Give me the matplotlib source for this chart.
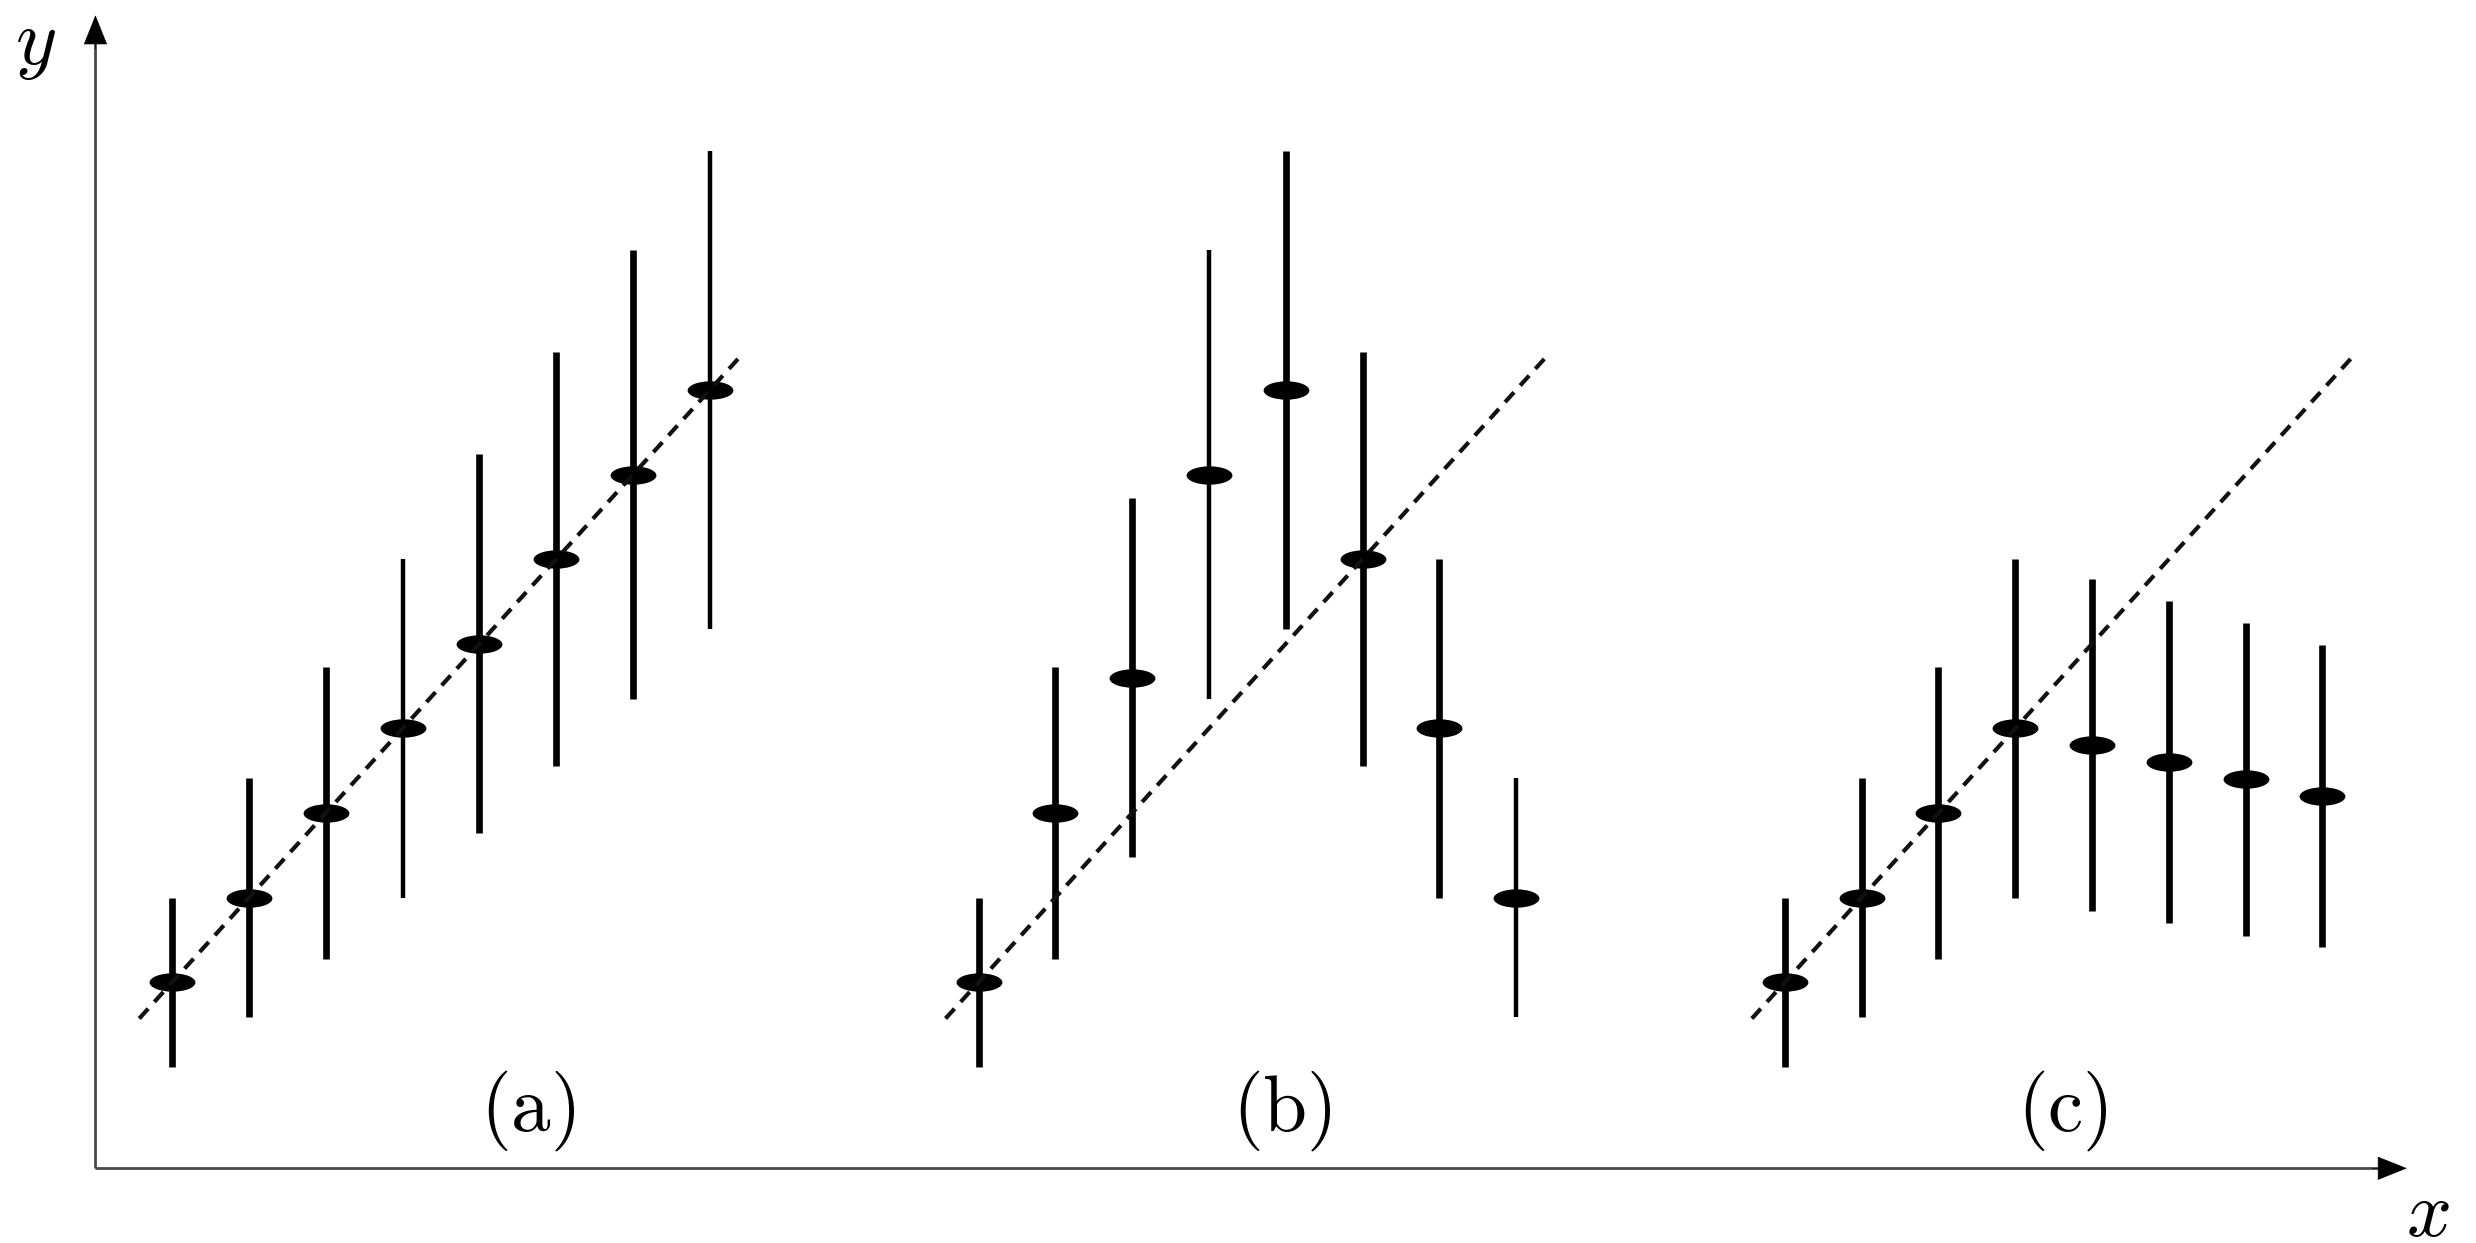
import numpy as np
import matplotlib

matplotlib.use("Agg")
import matplotlib.pyplot as plt
from matplotlib.path import Path
from matplotlib.transforms import Affine2D

plt.rcParams["mathtext.fontset"] = "cm"

########## DATA ########
point_x = [1, 2, 3, 4, 5, 6, 7, 8]
panel_offset = [0.0, 10.5, 21.0]
panel_names = ["(a)", "(b)", "(c)"]

y_a = [2.2, 3.2, 4.2, 5.2, 6.2, 7.2, 8.2, 9.2]
err_a = [1.0, 1.41, 1.73, 2.0, 2.24, 2.45, 2.65, 2.83]

y_b = [2.2, 4.2, 5.8, 8.2, 9.2, 7.2, 5.2, 3.2]
err_b = [1.0, 1.73, 2.12, 2.65, 2.83, 2.45, 2.0, 1.41]

y_c = [2.2, 3.2, 4.2, 5.2, 5.0, 4.8, 4.6, 4.4]
err_c = [1.0, 1.41, 1.73, 2.0, 1.96, 1.9, 1.85, 1.79]

# dashed reference line (same in every panel, relative to panel offset)
trend_x = [0.57, 8.42]
trend_y = [1.77, 9.62]

label_x = [5.63, 15.45, 25.62]
label_y = 0.68
###### END DATA ########

panels_y = [y_a, y_b, y_c]
panels_err = [err_a, err_b, err_c]
thin_bars = [[3, 7], [3, 7], []]

fig = plt.figure(figsize=(24.76, 12.43), dpi=100)
ax = fig.add_axes([0, 0, 1, 1])
ax.set_xlim(-1.243, 31.0)
ax.set_ylim(-0.883, 13.81)
ax.set_axis_off()

# flat ellipse marker
ellipse = Path.unit_circle().transformed(Affine2D().scale(1.0, 0.4))

thick_lw, thin_lw = 4.8, 3.2
for k in range(3):
    xs = np.array(point_x) + panel_offset[k]
    bars = ax.errorbar(xs, panels_y[k], yerr=panels_err[k], fmt="none",
                       ecolor="black", elinewidth=thick_lw, capsize=0, zorder=2)
    lws = [thin_lw if i in thin_bars[k] else thick_lw for i in range(len(xs))]
    bars[2][0].set_linewidths(lws)
    ax.plot(xs, panels_y[k], linestyle="none", marker=ellipse, markersize=33,
            markerfacecolor="black", markeredgewidth=0, zorder=3)
    ax.plot(np.array(trend_x) + panel_offset[k], trend_y, color="#111111",
            lw=3.0, linestyle=(0, (3.2, 2.2)), zorder=4)
    ax.text(label_x[k], label_y, r"$\mathrm{%s}$" % panel_names[k], fontsize=57,
            ha="center", va="center")

# axes with arrows
x_tip, y_tip = 30.1, 13.63
ax.plot([0, 0], [0, y_tip - 0.25], color="#4a4a4a", lw=2.0, solid_capstyle="butt")
ax.plot([0, x_tip - 0.3], [0, 0], color="#4a4a4a", lw=2.0, solid_capstyle="butt")
astyle = dict(arrowstyle="-|>,head_length=0.4,head_width=0.16", mutation_scale=50,
              color="black", lw=0.5, shrinkA=0, shrinkB=0)
ax.annotate("", xy=(0, y_tip), xytext=(0, y_tip - 0.4), arrowprops=astyle)
ax.annotate("", xy=(x_tip, 0), xytext=(x_tip - 0.45, 0), arrowprops=astyle)

ax.text(-0.775, 13.29, r"$y$", fontsize=57, ha="center", va="center")
ax.text(30.37, -0.54, r"$x$", fontsize=57, ha="center", va="center")

plt.savefig("out.png", dpi=100)
